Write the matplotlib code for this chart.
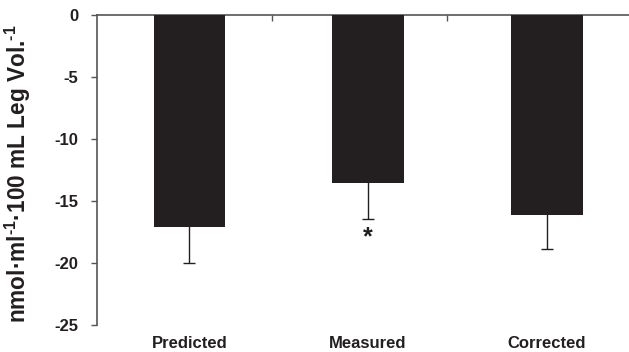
import matplotlib
matplotlib.use("Agg")
import matplotlib.pyplot as plt
from matplotlib.ticker import FixedLocator

plt.rcParams['font.family'] = ['Liberation Sans', 'DejaVu Sans']
plt.rcParams['font.weight'] = 'bold'
plt.rcParams['mathtext.fontset'] = 'custom'
plt.rcParams['mathtext.rm'] = 'Liberation Sans:bold'
plt.rcParams['mathtext.bf'] = 'Liberation Sans:bold'
plt.rcParams['mathtext.default'] = 'bf'

categories = ["Predicted", "Measured", "Corrected"]
means = [-17.1, -13.55, -16.15]
errors = [2.9, 2.85, 2.75]
yticks = [0, -5, -10, -15, -20, -25]
star_index = 1
star_y = -17.9

bar_color = "#231f20"
axis_color = "#555555"

fig = plt.figure(figsize=(6.29, 3.52), dpi=100)
ax = fig.add_axes([0.155, 0.0767, 0.845, 0.8793])

x = list(range(len(categories)))
ax.bar(x, means, width=0.40, color=bar_color, zorder=3)
ax.errorbar(x, means, yerr=errors, fmt='none',
            ecolor=bar_color, elinewidth=1.0, capsize=4.5, capthick=1.0, zorder=2)
ax.text(star_index, star_y, "*", ha='center', va='center', fontsize=18,
        fontweight='bold', color=bar_color)

ax.set_xlim(-0.514, 2.46)
ax.set_ylim(-25, 0)
ax.set_yticks(yticks)
ax.set_yticklabels([str(t) for t in yticks], fontsize=12, fontweight='bold')
ax.set_xticks(x)
ax.set_xticklabels(categories, fontsize=12, fontweight='bold')
ax.tick_params(axis='x', which='major', length=0, pad=8, colors='#231f20')
ax.xaxis.set_minor_locator(FixedLocator([0.465, 1.44]))
ax.tick_params(axis='x', which='minor', direction='in', length=4, width=1,
               top=True, bottom=False, color=axis_color)
ax.tick_params(axis='y', direction='out', length=4, width=1, color=axis_color,
               labelcolor='#231f20', pad=10)

for s in ['right', 'bottom']:
    ax.spines[s].set_visible(False)
for s in ['left', 'top']:
    ax.spines[s].set_color(axis_color)
    ax.spines[s].set_linewidth(1.2)

ax.set_ylabel(r'nmol·ml$^{\text{-1}}$·100 mL Leg Vol.$^{\text{-1}}$', fontsize=16.3,
              fontweight='bold', color='#231f20')
ax.yaxis.set_label_coords(-0.122, 0.49)

fig.savefig("out.png", dpi=100)
